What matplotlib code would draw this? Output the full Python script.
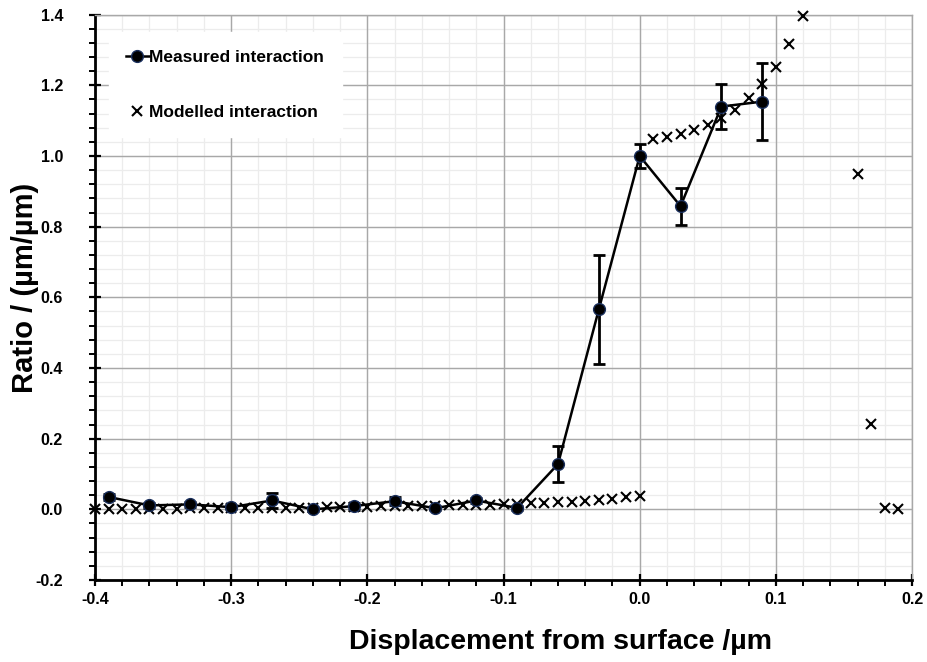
import matplotlib
matplotlib.use("Agg")
import matplotlib.pyplot as plt
import numpy as np
from matplotlib.ticker import MultipleLocator, FormatStrFormatter

plt.rcParams['font.family'] = ['Liberation Sans', 'DejaVu Sans']
plt.rcParams['font.weight'] = 'bold'

# Measured interaction (mean ratio with error bars)
measured_x = [-0.39, -0.36, -0.33, -0.30, -0.27, -0.24, -0.21, -0.18, -0.15,
              -0.12, -0.09, -0.06, -0.03, 0.00, 0.03, 0.06, 0.09]
measured_y = [0.035, 0.011, 0.014, 0.006, 0.025, 0.000, 0.009, 0.023, 0.003,
              0.025, 0.004, 0.128, 0.566, 1.000, 0.858, 1.140, 1.154]
measured_err = [0.008, 0.006, 0.008, 0.006, 0.022, 0.006, 0.010, 0.012, 0.006,
                0.008, 0.006, 0.050, 0.154, 0.035, 0.052, 0.064, 0.108]

# Modelled interaction
modelled_x = [-0.40, -0.39, -0.38, -0.37, -0.36, -0.35, -0.34, -0.33, -0.32,
              -0.31, -0.30, -0.29, -0.28, -0.27, -0.26, -0.25, -0.24, -0.23,
              -0.22, -0.21, -0.20, -0.19, -0.18, -0.17, -0.16, -0.15, -0.14,
              -0.13, -0.12, -0.11, -0.10, -0.09, -0.08, -0.07, -0.06, -0.05,
              -0.04, -0.03, -0.02, -0.01, 0.00,
              0.01, 0.02, 0.03, 0.04, 0.05, 0.06, 0.07, 0.08, 0.09, 0.10,
              0.11, 0.12, 0.16, 0.17, 0.18, 0.19]
modelled_y = [0.001, 0.001, 0.001, 0.002, 0.002, 0.002, 0.002, 0.003, 0.003,
              0.003, 0.003, 0.004, 0.004, 0.004, 0.005, 0.005, 0.005, 0.006,
              0.006, 0.007, 0.007, 0.008, 0.008, 0.009, 0.009, 0.010, 0.011,
              0.011, 0.012, 0.013, 0.014, 0.015, 0.017, 0.018, 0.020, 0.022,
              0.024, 0.027, 0.030, 0.034, 0.038,
              1.047, 1.055, 1.063, 1.074, 1.088, 1.107, 1.130, 1.163, 1.204,
              1.253, 1.318, 1.397, 0.949, 0.242, 0.004, 0.000]

x_label = "Displacement from surface /µm"
y_label = "Ratio / (µm/µm)"
legend_labels = ["Measured interaction", "Modelled interaction"]

XMIN, XMAX, YMIN, YMAX = -0.4, 0.2, -0.2, 1.4

fig = plt.figure(figsize=(9.28, 6.62), dpi=100)
ax = fig.add_axes([0.1024, 0.1239, 0.8804, 0.8539])

ax.set_xlim(XMIN, XMAX)
ax.set_ylim(YMIN, YMAX)

ax.xaxis.set_major_locator(MultipleLocator(0.1))
ax.xaxis.set_minor_locator(MultipleLocator(0.02))
ax.yaxis.set_major_locator(MultipleLocator(0.2))
ax.yaxis.set_minor_locator(MultipleLocator(0.04))
ax.xaxis.set_major_formatter(FormatStrFormatter('%.1f'))
ax.yaxis.set_major_formatter(FormatStrFormatter('%.1f'))

# Gridlines: light minor lines underneath, grey major lines on top of them
for xv in np.arange(XMIN, XMAX + 1e-9, 0.02):
    ax.axvline(xv, color='#ececec', linewidth=0.9, zorder=0.1)
for yv in np.arange(YMIN, YMAX + 1e-9, 0.04):
    ax.axhline(yv, color='#ececec', linewidth=0.9, zorder=0.1)
for xv in np.arange(XMIN, XMAX + 1e-9, 0.1):
    ax.axvline(xv, color='#a8a8a8', linewidth=1.0, zorder=0.2)
for yv in np.arange(YMIN, YMAX + 1e-9, 0.2):
    ax.axhline(yv, color='#a8a8a8', linewidth=1.0, zorder=0.2)

for side in ('top', 'right'):
    ax.spines[side].set_color('#a8a8a8')
    ax.spines[side].set_linewidth(1.0)
for side in ('left', 'bottom'):
    ax.spines[side].set_color('black')
    ax.spines[side].set_linewidth(2.0)

ax.tick_params(which='major', direction='inout', length=8, width=1.6,
               labelsize=11.5, colors='black')
ax.tick_params(axis='x', which='major', pad=5)
ax.tick_params(axis='y', which='major', pad=19)
ax.tick_params(which='minor', direction='out', length=4, width=1.4)
for lbl in ax.get_xticklabels() + ax.get_yticklabels():
    lbl.set_fontweight('bold')

mod, = ax.plot(modelled_x, modelled_y, linestyle='none', marker='x',
               markersize=7.5, markeredgewidth=1.5, color='black',
               clip_on=False, zorder=3)

ax.errorbar(measured_x, measured_y, yerr=measured_err, fmt='none',
            ecolor='black', elinewidth=2.0, capsize=4, capthick=2.0, zorder=4)
meas, = ax.plot(measured_x, measured_y, color='black', linewidth=1.8,
                marker='o', markersize=8.5, markerfacecolor='black',
                markeredgecolor='#1a2f5c', markeredgewidth=1.0, zorder=5)

leg = ax.legend([meas, mod], legend_labels, loc='upper left',
                bbox_to_anchor=(0.006, 0.984), frameon=True, fancybox=False,
                edgecolor='white', facecolor='white', framealpha=1.0,
                handlelength=1.3, handletextpad=0.05, labelspacing=2.3,
                borderpad=1.0, prop={'weight': 'bold', 'size': 12.5})
leg.set_zorder(6)

ax.set_xlabel(x_label, fontsize=20.5, fontweight='bold')
ax.set_ylabel(y_label, fontsize=21, fontweight='bold')
ax.xaxis.set_label_coords(0.5 + (560 - 503.5) / 817, -0.087)
ax.yaxis.set_label_coords(-0.068, 0.5 + (297 - 288) / 565)

fig.savefig("out.png", dpi=100)
